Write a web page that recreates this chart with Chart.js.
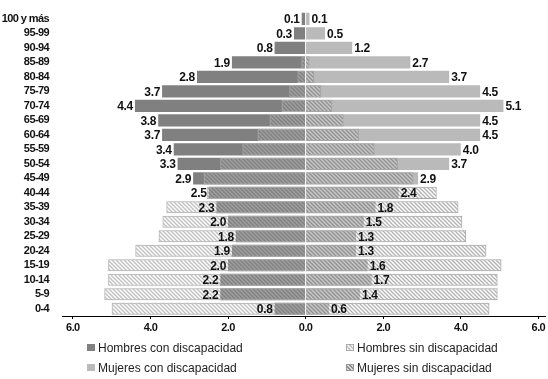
<!DOCTYPE html>
<html>
<head>
<meta charset="utf-8">
<script src="https://cdn.jsdelivr.net/npm/chart.js@4/dist/chart.umd.min.js"></script>
<style>
  html, body { margin: 0; padding: 0; background: #fff; }
  #wrap { position: relative; width: 548px; height: 379px; }
  #legend { position: absolute; left: 0; top: 0; width: 548px; height: 379px; pointer-events: none;
            font: 12px "Liberation Sans", Arial, sans-serif; color: #222; }
  .item { position: absolute; white-space: nowrap; line-height: 14px; }
  .sw { display: inline-block; width: 8px; height: 7px; margin-right: 3px; box-sizing: border-box; vertical-align: 1px; }
</style>
</head>
<body>
<div id="wrap">
  <canvas id="c" width="548" height="379"></canvas>
  <div id="legend"></div>
</div>
<script>
// Age groups, oldest at the top
const categories = ['100 y más', '95-99', '90-94', '85-89', '80-84', '75-79', '70-74', '65-69',
  '60-64', '55-59', '50-54', '45-49', '40-44', '35-39', '30-34', '25-29', '20-24', '15-19',
  '10-14', '5-9', '0-4'];

// Percentages by age group
const hombresCon = [0.1, 0.3, 0.8, 1.9, 2.8, 3.7, 4.4, 3.8, 3.7, 3.4, 3.3, 2.9, 2.5, 2.3, 2.0, 1.8, 1.9, 2.0, 2.2, 2.2, 0.8];
const mujeresCon = [0.1, 0.5, 1.2, 2.7, 3.7, 4.5, 5.1, 4.5, 4.5, 4.0, 3.7, 2.9, 2.4, 1.8, 1.5, 1.3, 1.3, 1.6, 1.7, 1.4, 0.6];
const hombresSin = [0.0, 0.0, 0.02, 0.11, 0.21, 0.42, 0.62, 0.93, 1.24, 1.63, 2.2, 2.63, 2.55, 3.59, 3.69, 3.79, 4.39, 5.09, 5.09, 5.19, 5.0];
const mujeresSin = [0.0, 0.0, 0.02, 0.1, 0.22, 0.4, 0.69, 0.98, 1.38, 1.78, 2.38, 2.78, 3.38, 3.94, 4.04, 4.14, 4.66, 5.05, 4.95, 4.95, 4.74];

// Axis tick values (shown as absolute values)
const xTickValues = [-6, -4, -2, 0, 2, 4, 6];

const SANS = '"Liberation Sans", Arial, sans-serif';

// Diagonal stripe fill for the "sin discapacidad" bars
function hatch(stripe, bg) {
  const s = 4;
  const c = document.createElement('canvas');
  c.width = s; c.height = s;
  const g = c.getContext('2d');
  g.fillStyle = bg;
  g.fillRect(0, 0, s, s);
  g.strokeStyle = stripe;
  g.lineWidth = 1.3;
  g.beginPath();
  g.moveTo(-1, -1); g.lineTo(s + 1, s + 1);
  g.moveTo(-1, s - 1); g.lineTo(1, s + 1);
  g.moveTo(s - 1, -1); g.lineTo(s + 1, 1);
  g.stroke();
  return g.createPattern(c, 'repeat');
}

const ctx = document.getElementById('c').getContext('2d');
const hatchMen = hatch('rgba(77,77,77,0.36)', 'rgba(255,255,255,0.24)');
const hatchWomen = hatch('rgba(60,60,60,0.40)', 'rgba(255,255,255,0.20)');

// Tighter letter spacing for the compact axis labels
const tightText = {
  id: 'tightText',
  beforeDraw(chart) { chart.ctx.letterSpacing = '-0.6px'; },
  afterDraw(chart) { chart.ctx.letterSpacing = '0px'; }
};

// Value labels at the end of the "con discapacidad" bars
const valueLabels = {
  id: 'valueLabels',
  afterDatasetsDraw(chart) {
    const g = chart.ctx;
    g.save();
    g.letterSpacing = '-0.3px';
    g.font = 'bold 12px ' + SANS;
    g.fillStyle = '#111';
    g.textBaseline = 'middle';
    [[0, hombresCon, 'right', -2], [2, mujeresCon, 'left', 2]].forEach(([di, vals, align, dx]) => {
      chart.getDatasetMeta(di).data.forEach((bar, i) => {
        g.textAlign = align;
        g.fillText(vals[i].toFixed(1), bar.x + dx, bar.y + 1);
      });
    });
    g.restore();
  }
};

const chart = new Chart(ctx, {
  type: 'bar',
  data: {
    labels: categories,
    datasets: [
      { label: 'Hombres con discapacidad', data: hombresCon.map(v => -v), backgroundColor: '#808080', borderWidth: 0, order: 2 },
      { label: 'Hombres sin discapacidad', data: hombresSin.map(v => -v), backgroundColor: hatchMen, borderColor: '#adadad', borderWidth: 1, order: 1 },
      { label: 'Mujeres con discapacidad', data: mujeresCon, backgroundColor: '#bababa', borderWidth: 0, order: 2 },
      { label: 'Mujeres sin discapacidad', data: mujeresSin, backgroundColor: hatchWomen, borderColor: '#a5a5a5', borderWidth: 1, order: 1 }
    ]
  },
  options: {
    indexAxis: 'y',
    responsive: false,
    animation: false,
    datasets: { bar: { grouped: false, barPercentage: 0.84, categoryPercentage: 1 } },
    layout: { padding: { top: 9, left: 0, right: 0, bottom: 43 } },
    plugins: { legend: { display: false }, tooltip: { enabled: false } },
    scales: {
      x: {
        min: -6.28, max: 6.18,
        afterBuildTicks: s => { s.ticks = xTickValues.map(v => ({ value: v })); },
        afterFit: s => { s.height = 20; },
        grid: { drawOnChartArea: false, drawTicks: true, tickLength: 3, color: '#000' },
        border: { color: '#000', width: 1 },
        ticks: { padding: 2, color: '#111', font: { family: SANS, size: 11, weight: 'bold' },
                 callback: v => Math.abs(v).toFixed(1) }
      },
      y: {
        afterFit: s => { s.width = 62; },
        grid: { display: false },
        border: { display: false },
        ticks: { padding: 5, color: '#111', autoSkip: false, font: { family: SANS, size: 11, weight: 'bold' } }
      }
    }
  },
  plugins: [tightText, valueLabels]
});

// Legend in two columns below the axis
const swatches = [
  'background:#808080;',
  'background:repeating-linear-gradient(45deg,#f4f4f4 0 1.5px,#c2c2c2 1.5px 3px);border:1px solid #adadad;',
  'background:#bababa;',
  'background:repeating-linear-gradient(45deg,#d8d8d8 0 1.5px,#8c8c8c 1.5px 3px);border:1px solid #999;'
];
const legendPos = [[87, 341], [346, 341], [87, 361], [346, 361]];
const legend = document.getElementById('legend');
chart.data.datasets.forEach((ds, i) => {
  const item = document.createElement('div');
  item.className = 'item';
  item.style.left = legendPos[i][0] + 'px';
  item.style.top = legendPos[i][1] + 'px';
  const sw = document.createElement('span');
  sw.className = 'sw';
  sw.style.cssText = swatches[i];
  item.appendChild(sw);
  item.appendChild(document.createTextNode(ds.label));
  legend.appendChild(item);
});
</script>
</body>
</html>
